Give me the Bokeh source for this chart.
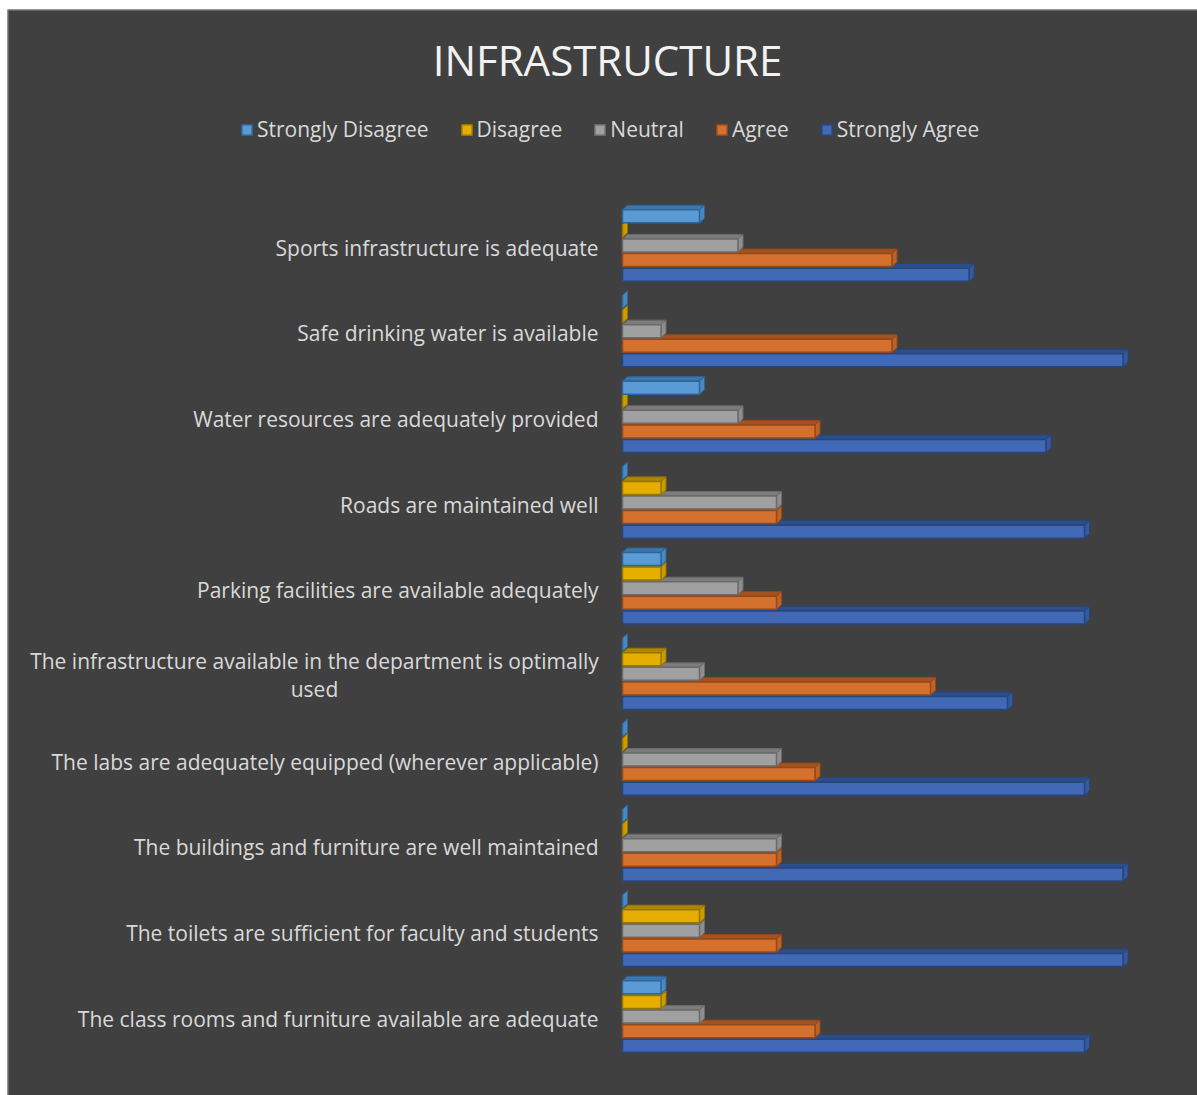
from bokeh.plotting import figure
from bokeh.models import Range1d, Label, Legend, LegendItem, Span
from bokeh.embed import file_html
from bokeh.resources import INLINE
from bokeh.core.properties import value

# ---------------- data ----------------
tick_labels = [
    "Sports infrastructure is adequate",
    "Safe drinking water is available",
    "Water resources are adequately provided",
    "Roads are maintained well",
    "Parking facilities are available adequately",
    "The infrastructure available in the department is optimally\nused",
    "The labs are adequately equipped (wherever applicable)",
    "The buildings and furniture are well maintained",
    "The toilets are sufficient for faculty and students",
    "The class rooms and furniture available are adequate",
]
series_names = ["Strongly Disagree", "Disagree", "Neutral", "Agree", "Strongly Agree"]
strongly_disagree = [2, 0, 2, 0, 1, 0, 0, 0, 0, 1]
disagree = [0, 0, 0, 1, 1, 1, 0, 0, 2, 1]
neutral = [3, 1, 3, 4, 3, 2, 4, 4, 2, 2]
agree = [7, 7, 5, 4, 4, 8, 5, 4, 4, 5]
strongly_agree = [9, 13, 11, 12, 12, 10, 12, 13, 13, 12]
series_values = [strongly_disagree, disagree, neutral, agree, strongly_agree]

# ---------------- styles ----------------
front_colors = ["#5B9BD5", "#E5AE00", "#A0A0A0", "#D5712F", "#4169B6"]
edge_colors = ["#2F6497", "#967400", "#6A6A6A", "#96481A", "#27467E"]
top_colors = ["#3B76AE", "#B08600", "#7C7C7C", "#A4521F", "#2D4E8A"]
side_colors = ["#4A88C2", "#C99C00", "#8E8E8E", "#BC6227", "#35599E"]

W, H = 1197, 1095
LEFT, TOP = 7, 9                 # white strip left/top of the chart area
FW, FH = W - LEFT, H - TOP        # frame size
BAND = 85.67      # px per category
UNIT = 38.5       # px per response count
ORIGIN_X = 622 - LEFT    # frame px of value 0
FIRST_Y = 245 - TOP      # frame px of first category centre

x_range = Range1d(-ORIGIN_X / UNIT, (FW - ORIGIN_X) / UNIT)
y_range = Range1d((FH - FIRST_Y) / BAND, -FIRST_Y / BAND)

p = figure(width=W, height=H, output_backend="svg", toolbar_location=None,
           x_axis_location=None, y_axis_location=None,
           x_range=x_range, y_range=y_range,
           min_border=0, min_border_left=LEFT, min_border_top=TOP,
           background_fill_color="#404040", border_fill_color="#FFFFFF",
           outline_line_color=None)
p.grid.visible = False

# chart-area border (only left and top edges are visible in the window)
p.add_layout(Span(location=x_range.start, dimension="height",
                  line_color="#8C8C8C", line_width=2))
p.add_layout(Span(location=y_range.end, dimension="width",
                  line_color="#8C8C8C", line_width=2))

n = len(tick_labels)
h = 13 / BAND
pitch = 14.6 / BAND
dx = 5 / UNIT
dy = 4.5 / BAND

renderers = {}
for k in reversed(range(len(series_names))):
    vals = series_values[k]
    yc = [i + (k - 2) * pitch for i in range(n)]
    top = [y - h / 2 for y in yc]
    bot = [y + h / 2 for y in yc]
    top_xs = [[0, v, v + dx, dx] for v in vals]
    top_ys = [[t, t, t - dy, t - dy] for t in top]
    side_xs = [[v, v + dx, v + dx, v] for v in vals]
    side_ys = [[t, t - dy, b - dy, b] for t, b in zip(top, bot)]
    p.patches(top_xs, top_ys, fill_color=top_colors[k], line_color=edge_colors[k], line_width=1)
    p.patches(side_xs, side_ys, fill_color=side_colors[k], line_color=edge_colors[k], line_width=1)
    renderers[k] = p.hbar(y=yc, left=0, right=vals, height=h,
                          fill_color=front_colors[k], line_color=edge_colors[k], line_width=1.5)

# category labels
single = [i for i, t in enumerate(tick_labels) if "\n" not in t]
multi = [i for i, t in enumerate(tick_labels) if "\n" in t]
p.text(x=[0] * len(single), y=single, text=[tick_labels[i] for i in single],
       text_align="right", text_baseline="middle", x_offset=-24, y_offset=2,
       text_font=value("Open Sans"), text_font_size="21px", text_color="#D9D9D9")
p.text(x=[0] * len(multi), y=multi, text=[tick_labels[i] for i in multi],
       text_align="center", text_baseline="middle", x_offset=-308, y_offset=1,
       text_font=value("Open Sans"), text_font_size="21px", text_color="#D9D9D9",
       text_line_height=1.0)

# legend
legend = Legend(items=[LegendItem(label=series_names[k], renderers=[renderers[k]])
                       for k in range(len(series_names))],
                orientation="horizontal", location=(240 - LEFT, FH - (143 - TOP)),
                background_fill_alpha=0, border_line_alpha=0,
                label_text_color="#D9D9D9", label_text_font="Open Sans",
                label_text_font_size="21px", glyph_width=13, glyph_height=13,
                label_standoff=4, spacing=31, padding=0, margin=0)
p.add_layout(legend)

# title
p.add_layout(Label(x=607 - LEFT, y=FH - (59 - TOP), x_units="screen", y_units="screen",
                   text="INFRASTRUCTURE", text_align="center", text_baseline="middle",
                   text_font="Open Sans", text_font_size="42px", text_color="#F2F2F2"))

open("out.html", "w").write(file_html(p, INLINE))
